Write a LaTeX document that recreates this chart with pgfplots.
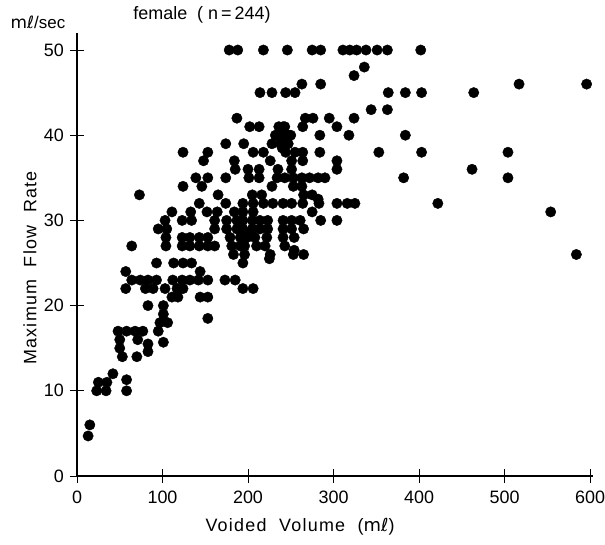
\documentclass[border=0pt]{standalone}
\usepackage{fontspec}
\setmainfont{Liberation Sans}
\newfontfamily\ellfont{DejaVu Sans}
\newfontfamily\widefont[LetterSpace=7]{Liberation Sans}
\usepackage{pgfplots}
\pgfplotsset{compat=1.18}
\pgfplotstableread{
x y
178 50
188 50
218 50
246 50
275 50
285 50
311 50
319 50
327 50
338 50
351 50
363 50
402 50
263 46
285 46
324 47
336 48
517 46
596 46
214 45
228 45
244 45
255 45
364 45
384 45
403 45
464 45
344 43
363 43
187 42
267 42
276 42
295 42
324 42
202 41
213 41
243 41
264 41
304 41
240 40
234 40
247 40
284 40
318 40
384 40
174 39
195 39
228 39
243 39
238 39
241 41
245 40
250 40
236 41
232 40
240 38.5
247 39
124 38
153 38
206 38
218 38
244 38
255 38
264 38
284 38
353 38
403 38
504 38
148 37
184 37
226 37
251 37
264 37
304 37
185 36
200 36
213 36
235 36
251 36
304 36
462 36
139 35
153 35
174 35
201 35
213 35
234 35
243 35
253 35
263 35
272 35
282 35
290 35
382 35
504 35
124 34
146 34
228 34
253 34
263 34
73 33
165 33
205 33
216 33
265 33
275 33
282 32.5
143 32
174 32
194 32
206 32
218 32
229 32
241 32
251 32
264 32
283 32
304 32
316 32
325 32
422 32
111 31
133 31
152 31
164 31
184 31
194 31
206 31
275 31
554 31
584 26
103 30
123 30
134 30
161 30
175 30
187 30
194 30
205 30
214 30
223 30
241 30
251 30
261 30
285 30
304 30
95 29
105 29
161 29
175 29
187 29
194 29
205 29
214 29
223 29
241 29
251 29
265 29
202 28.6
104 28
123 28
132 28
143 28
153 28
179 28
191 28
199 28
208 28
222 28
241 28
254 28
64 27
104 27
123 27
132 27
143 27
153 27
161 27
181 27
191 27
196 27
210 27
220 27
243 27
254 26.5
183 26
196 26
226 26
253 26
265 26
93 25
113 25
124 25
134 25
194 25
225 25.5
57 24
144 24
64 23
74 23
83 23
93 23
112 23
123 23
132 23
142 23
153 23
173 23
185 23
57 22
80 22
89 22
103 22
117 22
124 22
194 22
206 22
111 21
118 21
144 21
153 21
83 20
101 20
101 19
153 18.5
97 18
106 18
48 17
58 17
68 17
77 17
95 17
50 16
71 16
101 15.7
83 15.5
50 15
83 14.6
53 14
70 14
42 12
25 11
35 11
58 11.3
23 10
34 10
58 10
15 6
13 4.7
}\pts
\begin{document}
\fontsize{18}{20}\selectfont
\begin{tikzpicture}
\path[use as bounding box] (-77bp,-69bp) rectangle (528bp,476bp);
\begin{axis}[
  anchor=origin, at={(0,0)},
  scale only axis, width=515.6bp, height=443bp,
  xmin=0, xmax=603, ymin=0, ymax=52,
  axis x line=bottom, axis y line=left,
  axis line style={-, line width=1.1pt},
  xtick={0,100,...,600}, ytick={0,10,...,50},
  tick align=center, major tick length=14bp,
  tick style={line width=1pt, black},
  /pgf/number format/assume math mode=true,
  ticklabel style={font=\fontsize{18}{20}\selectfont},
  xticklabel style={yshift=-2bp},
  clip=false,
]
\addplot[only marks, mark=*, mark size=5.2bp, black] table[x=x,y=y] {\pts};
\end{axis}
\node at (223bp,-51bp) {\widefont Voided\ \ Volume\ \ ({\ellfont m\char"2113})};
\node[rotate=90] at (-47bp,208bp) {\widefont Maximum\ \ Flow\ \ Rate};
\node at (-39bp,454bp) {\fontsize{17}{19}\selectfont{\ellfont m\char"2113}/sec};
\node at (125bp,461bp) {female\ \ ( n\,=\,244)};
\end{tikzpicture}
\end{document}
